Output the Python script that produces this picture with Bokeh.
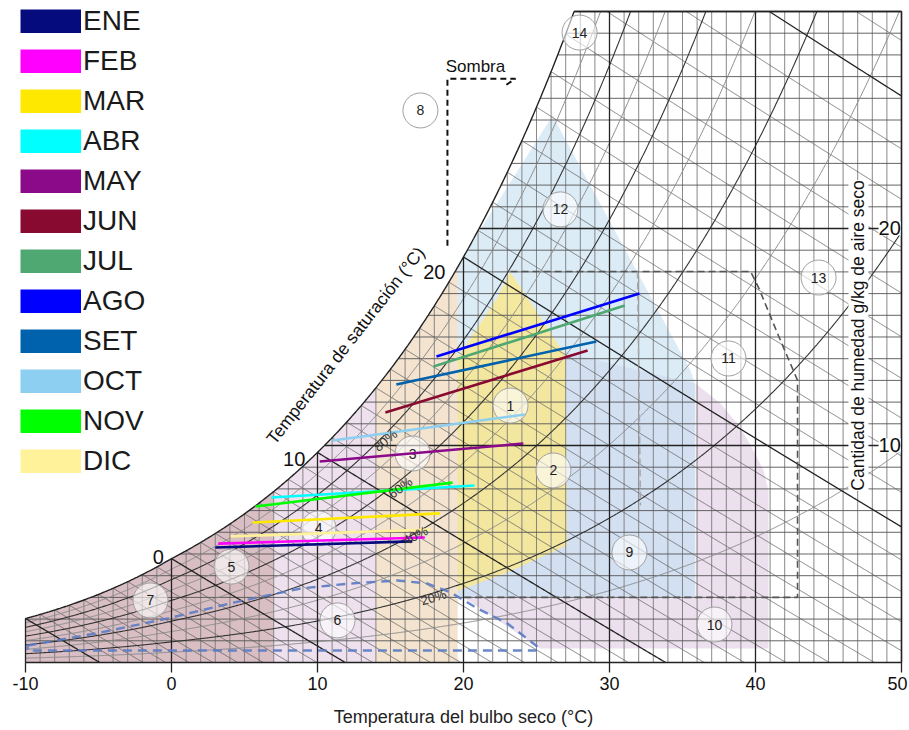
import numpy as np
from bokeh.plotting import figure
from bokeh.models import (Range1d, Legend, LegendItem, Label, ColumnDataSource)
from bokeh.embed import file_html
from bokeh.resources import INLINE
from bokeh.core.properties import value

FONT = "Liberation Sans"

# ---------------- data ----------------
months = ["ENE", "FEB", "MAR", "ABR", "MAY", "JUN",
          "JUL", "AGO", "SET", "OCT", "NOV", "DIC"]
month_colors = ["#050a7d", "#ff00ff", "#ffe800", "#00ffff", "#8a0a8a", "#880a30",
                "#4fa872", "#0000ff", "#0062ad", "#8dcff0", "#00ff00", "#fff29a"]
t_min = [3.0, 3.2, 5.55, 6.85, 10.15, 14.65, 17.95, 18.15, 15.4, 11.05, 5.75, 4.05]
w_min = [5.30, 5.48, 6.45, 7.60, 9.26, 11.52, 13.64, 14.10, 12.81, 10.23, 7.19, 5.81]
t_max = [16.5, 17.35, 18.4, 20.75, 24.1, 28.5, 31.05, 32.05, 29.1, 24.2, 19.25, 17.75]
w_max = [5.58, 5.76, 6.87, 8.16, 10.09, 14.38, 16.45, 17.0, 14.79, 11.43, 8.29, 6.13]

x_ticks = [-10, 0, 10, 20, 30, 40, 50]
x_tick_labels = ["-10", "0", "10", "20", "30", "40", "50"]
right_ticks = [10, 20]
sat_labels = ["0", "10", "20"]
sat_label_t = [-0.9, 8.4, 18.0]
sat_label_w = [4.85, 9.4, 18.0]

rh_levels = [10, 20, 30, 40, 50, 60, 70, 80, 90]
rh_labels = ["80%", "60%", "40%", "20%"]
rh_label_t = [14.66, 15.68, 16.71, 17.95]
rh_label_w = [10.23, 8.06, 5.85, 3.0]
rh_label_angle = [40, 36, 27, 17]

zone_ids = ["1", "2", "3", "4", "5", "6", "7", "8", "9", "10", "11", "12", "13", "14"]
zone_t = [23.22, 26.16, 16.51, 10.07, 4.11, 11.37, -1.44, 17.05, 31.37, 37.19, 38.15, 26.64, 44.32, 27.95]
zone_w = [11.84, 8.85, 9.63, 6.18, 4.42, 1.94, 2.86, 25.44, 5.07, 1.75, 14.01, 20.88, 17.74, 29.03]

# heating bands (dry bulb ranges, up to saturation)
band_t0 = [-10, 7, 14]
band_t1 = [7, 14, 19.6]
band_colors = ["#d9bec4", "#eee1ed", "#f3e3cf"]

# zone 12 (ventilation) polygon corners (right part)
z12_t = [35.85, 35.85, 35.55, 26.1]
z12_w = [3.0, 12.86, 13.46, 25.2]
# zone 9 (thermal mass)
z9_t = [19.6, 35.85, 35.85, 26.9, 23.0, 19.6]
z9_w = [3.0, 3.0, 12.86, 14.3, 16.4, 13.0]
# zone 10 (evaporative cooling)
z10_t = [20.0, 25.27, 40.89, 40.89, 40.55, 39.86, 38.97, 37.6, 35.89, 35.89]
z10_w = [3.0, 0.645, 0.645, 7.93, 8.85, 9.77, 10.83, 11.94, 12.86, 3.0]
# zone 1 (comfort)
z1_t = [19.6, 23.2, 27.1, 27.0, 23.2, 22.3, 19.6]
z1_w = [3.3, 4.2, 5.4, 14.15, 18.0, 16.8, 14.06]
# zone 6 (humidification) outline
z6_t = [-9.86, -4.86, -0.27, 4.25, 8.84, 12.26, 15.48, 17.53, 19.11, 20.96, 23.01, 25.14, 25.14, -9.86, -9.86]
z6_w = [0.78, 1.38, 2.03, 2.76, 3.41, 3.64, 3.78, 3.64, 3.23, 2.49, 1.80, 0.69, 0.55, 0.55, 0.78]
# zone 11/13 outline
z11_t = [23.22, 39.66, 40.21, 41.51, 42.88, 42.88, 20.0]
z11_w = [18.02, 18.02, 17.28, 15.16, 13.0, 3.0, 3.0]
z9b_t = [31.92, 32.12]
z9b_w = [18.02, 7.24]
# shade (Sombra) marker
sombra_t = [18.9, 18.9, 23.56, 22.88]
sombra_w = [19.2, 26.9, 26.9, 26.6]

# ---------------- psychrometrics (chart construction) ----------------
P = 80.0  # kPa (altitude)


def pws(t):
    t = np.asarray(t, dtype=float)
    water = 0.61094 * np.exp(17.625 * t / (t + 243.04))
    ice = 0.61115 * np.exp(22.452 * t / (272.55 + t))
    return np.where(t < 0, ice, water)


def wsat(t):
    p_ = pws(t)
    return 622.0 * p_ / (P - p_)


_t_tab = np.linspace(-15, 55, 14001)
_w_tab = wsat(_t_tab)


def tdew(w):
    return np.interp(w, _w_tab, _t_tab)


WTOP = 30.0
T_TOP = float(tdew(WTOP))

# the frame fills the whole canvas; the dry-bulb axis is drawn inside it
p = figure(width=909, height=730, x_range=Range1d(-11.712, 50.548),
           y_range=Range1d(-3.134, 30.507),
           output_backend="svg", toolbar_location=None,
           x_axis_location=None, y_axis_location=None,
           min_border_left=0, min_border_right=0, min_border_top=0, min_border_bottom=0)
p.grid.visible = False
p.outline_line_color = None
p.background_fill_color = "white"
p.border_fill_color = "white"

# ---- coloured zones ----
for t0, t1, c in zip(band_t0, band_t1, band_colors):
    tt = np.linspace(t0, t1, 60)
    xs = [t0] + list(tt) + [t1]
    ys = [0] + list(np.minimum(wsat(tt), WTOP)) + [0]
    p.patch(xs, ys, fill_color=c, fill_alpha=1.0, line_color=None)

p.patch(z10_t, z10_w, fill_color="#d9c0dd", fill_alpha=0.5, line_color=None)

tt = np.linspace(19.6, 20.27, 20)
z12_xs = [19.6] + list(tt) + z12_t[::-1]
z12_ys = [3.0] + list(wsat(tt)) + z12_w[::-1]
p.patch(z12_xs, z12_ys, fill_color="#b9d9ef", fill_alpha=0.5, line_color=None)
p.patch(z9_t, z9_w, fill_color="#c4cae8", fill_alpha=0.35, line_color=None)
p.patch(z1_t, z1_w, fill_color="#fbe98a", fill_alpha=0.8, line_color=None)

# ---- psychrometric grid ----
major_col = "#222222"
vx_min, vy_min, vx_maj, vy_maj = [], [], [], []
for t in range(-10, 51):
    top = min(float(wsat(t)), WTOP)
    if t % 10 == 0:
        vx_maj.append([t, t]); vy_maj.append([0, top])
    else:
        vx_min.append([t, t]); vy_min.append([0, top])
p.multi_line(vx_min, vy_min, line_color="#7a7a7a", line_width=0.9)

hx_min, hy_min, hx_maj, hy_maj = [], [], [], []
for w in range(1, 31):
    x0 = max(float(tdew(w)), -10.0)
    if w % 10 == 0:
        hx_maj.append([x0, 50]); hy_maj.append([w, w])
    else:
        hx_min.append([x0, 50]); hy_min.append([w, w])
p.multi_line(hx_min, hy_min, line_color="#555555", line_width=0.9)

wx_min, wy_min, wx_maj, wy_maj = [], [], [], []
for twb in range(-10, 32):
    ws = float(wsat(twb)) / 1000.0
    t = np.linspace(twb, 50, 1500)
    w = ((2501 - 2.326 * twb) * ws - 1.006 * (t - twb)) / (2501 + 1.86 * t - 4.186 * twb) * 1000
    m = (w >= 0) & (w <= WTOP)
    if m.sum() < 2:
        continue
    if twb % 10 == 0:
        wx_maj.append(list(t[m])); wy_maj.append(list(w[m]))
    else:
        wx_min.append(list(t[m])); wy_min.append(list(w[m]))
p.multi_line(wx_min, wy_min, line_color="#5a5a5a", line_width=0.8)

rx_odd, ry_odd, rx_even, ry_even = [], [], [], []
for rh in rh_levels:
    t = np.linspace(-10, 50, 1200)
    pw = rh / 100.0 * pws(t)
    w = 622.0 * pw / (P - pw)
    m = w <= WTOP
    if (rh // 10) % 2 == 0:
        rx_even.append(list(t[m])); ry_even.append(list(w[m]))
    else:
        rx_odd.append(list(t[m])); ry_odd.append(list(w[m]))
p.multi_line(rx_odd, ry_odd, line_color="#8a8a8a", line_width=1.0)
p.multi_line(rx_even, ry_even, line_color="#333333", line_width=1.1)

p.multi_line(vx_maj, vy_maj, line_color=major_col, line_width=1.3)
p.multi_line(hx_maj, hy_maj, line_color=major_col, line_width=1.3)
p.multi_line(wx_maj, wy_maj, line_color=major_col, line_width=1.3)
p.line([T_TOP, 50], [WTOP, WTOP], line_color=major_col, line_width=1.4)
p.line([50, 50], [0, WTOP], line_color=major_col, line_width=1.4)

ts = np.linspace(-10, T_TOP, 400)
p.line(ts, wsat(ts), line_color="#222222", line_width=1.4)

# ---- dashed outlines ----
p.line(z6_t, z6_w, line_color="#5b7bc2", line_width=2.4, line_dash="9 6", line_alpha=0.9)
p.line(z11_t, z11_w, line_color="#555555", line_width=1.6, line_dash="7 4")
p.line(z9b_t, z9b_w, line_color="#a8a8a8", line_width=1.6, line_dash="7 4")
p.line(sombra_t, sombra_w, line_color="#111111", line_width=2, line_dash="6 4")

# ---- zone markers ----
p.scatter(zone_t, zone_w, size=35, marker="circle", fill_color="white", fill_alpha=0.6,
          line_color="#a0a0a0", line_width=1)
p.text(zone_t, zone_w, text=zone_ids, text_align="center", text_baseline="middle",
       text_font=value(FONT), text_font_size="14px", text_color="#222222")

# ---- monthly climate lines ----
src = ColumnDataSource(dict(x0=t_min, y0=w_min, x1=t_max, y1=w_max, color=month_colors))
p.segment("x0", "y0", "x1", "y1", source=src, line_color="color", line_width=2.6)

# ---- texts ----
p.text(rh_label_t, rh_label_w, text=rh_labels, angle=[np.deg2rad(a) for a in rh_label_angle],
       text_align="center", text_baseline="middle", text_font=value(FONT),
       text_font_size="13px", text_color="#333333")
p.text(sat_label_t, sat_label_w, text=sat_labels, text_align="center", text_baseline="middle",
       text_font=value(FONT), text_font_size="20px", text_color="#111111")
p.text([11.92], [14.61], text=["Temperatura de saturación (°C)"], angle=np.deg2rad(52),
       text_align="center", text_baseline="middle", text_font=value(FONT),
       text_font_size="17.5px", text_color="#111111")
p.text([20.82], [27.47], text=["Sombra"], text_align="center", text_baseline="middle",
       text_font=value(FONT), text_font_size="17px", text_color="#111111")

p.add_layout(Label(x=47.05, y=15.07, text="Cantidad de humedad g/kg de aire seco",
                   angle=np.pi / 2, text_align="center", text_baseline="middle",
                   text_font=FONT, text_font_size="17.5px", text_color="#111111",
                   background_fill_color="white", background_fill_alpha=1.0))
for v in right_ticks:
    p.add_layout(Label(x=49.95, y=v, text=str(v), text_align="right", text_baseline="middle",
                       text_font=FONT, text_font_size="20px", text_color="#111111",
                       background_fill_color="white", background_fill_alpha=1.0))

# ---- dry-bulb axis (drawn in data space, below W = 0) ----
p.line([-10, 50], [0, 0], line_color="#222222", line_width=1.4)
p.segment(x0=x_ticks, y0=[0] * len(x_ticks), x1=x_ticks, y1=[-0.46] * len(x_ticks),
          line_color="#222222", line_width=1.3)
p.text(x_ticks, [-0.95] * len(x_ticks), text=x_tick_labels, text_align="center",
       text_baseline="middle", x_offset=[0, 0, 0, 0, 0, 0, -4], text_font=value(FONT),
       text_font_size="18px", text_color="#111111")
p.text([20.0], [-2.53], text=["Temperatura del bulbo seco (°C)"], text_align="center",
       text_baseline="middle", text_font=value(FONT), text_font_size="18px",
       text_color="#222222")

# ---- legend ----
items = []
for m, c in zip(months, month_colors):
    r = p.line([np.nan, np.nan], [np.nan, np.nan], line_color=c, line_width=24)
    items.append(LegendItem(label=m, renderers=[r]))
legend = Legend(items=items, location=(20, 253), glyph_width=61, glyph_height=24,
                label_text_font=FONT, label_text_font_size="28px", label_standoff=2,
                spacing=8, padding=0, margin=0, border_line_color=None,
                background_fill_alpha=0, label_height=24, label_text_color="#1a1a1a")
p.add_layout(legend)

open("out.html", "w").write(file_html(p, INLINE))
